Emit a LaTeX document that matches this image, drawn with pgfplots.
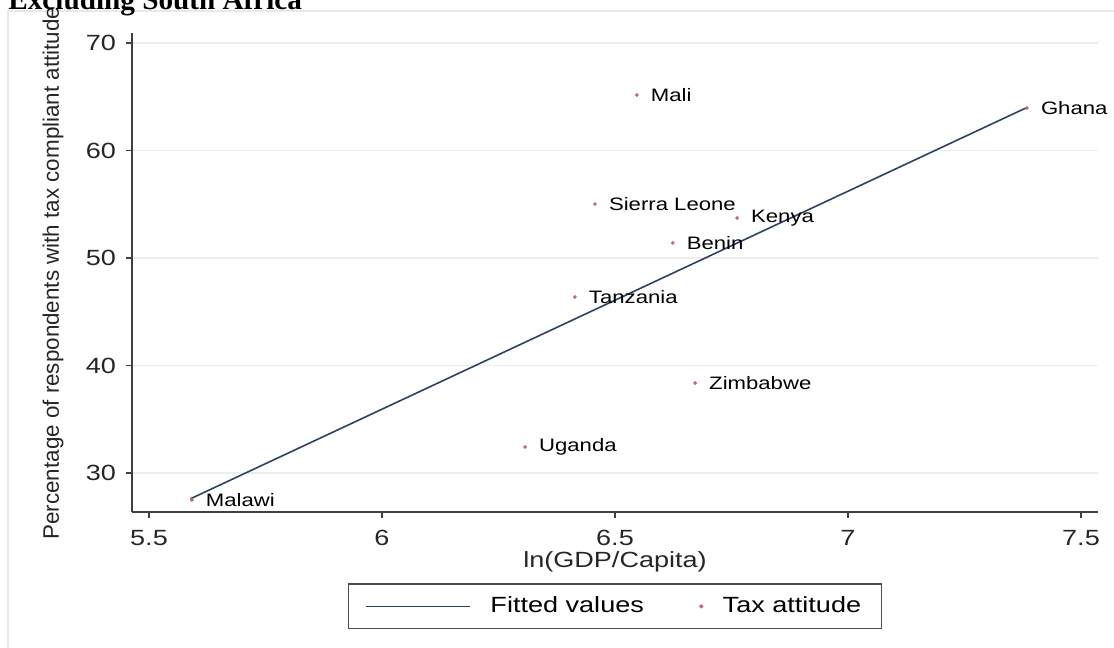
\documentclass[border=0pt]{standalone}
\usepackage{fontspec}
\setmainfont{Liberation Sans}[FakeStretch=1.23]
\newfontfamily\plainsans{Liberation Sans}
\newfontfamily\titlefont{Liberation Serif}
\usepackage{pgfplots}
\pgfplotsset{compat=1.18}
\pgfplotsset{lineleg/.style={legend image code/.code={\draw[##1] (0pt,0pt) -- (52pt,0pt);}}}
\definecolor{fitline}{RGB}{45,65,100}
\definecolor{dotcol}{RGB}{200,100,110}
\begin{document}
\begin{tikzpicture}
\useasboundingbox (0,0) rectangle (557pt,-324pt);
\draw[black!9, line width=0.7pt] (4pt,-340pt) -- (4pt,-5.5pt) -- (570pt,-5.5pt);
\begin{axis}[
  at={(66pt,-256pt)}, anchor=south west,
  scale only axis, width=483pt, height=239.5pt,
  xmin=5.4635, xmax=7.5365, ymin=26.37, ymax=70.93,
  axis x line*=bottom, axis y line*=left,
  axis line style={draw=black!75, line width=0.6pt, -},
  tick align=outside, major tick length=3pt,
  tick style={black!75, line width=0.6pt},
  xtick={5.5,6,6.5,7,7.5}, xticklabels={5.5,6,6.5,7,7.5},
  ytick={30,40,50,60,70}, yticklabels={30,40,50,60,70},
  ymajorgrids, grid style={black!7, line width=0.8pt},
  tick label style={font=\fontsize{11}{13}\selectfont, text=black!85},
  yticklabel style={xshift=-1.5pt},
  xticklabel style={yshift=-2.5pt},
  legend columns=2,
  legend style={at={(0.5,-0.197)}, anchor=center, draw=black!70, line width=0.6pt,
    font=\fontsize{11}{13}\selectfont, inner xsep=8pt, inner ysep=4.5pt,
    /tikz/every odd column/.append style={column sep=8pt},
    /tikz/every even column/.append style={column sep=26pt}},
  clip=false,
]
\addplot[fitline, line width=0.8pt, lineleg]
  coordinates {(5.589,27.6) (7.384,64.0)};
\addlegendentry{Fitted values}
\addplot[only marks, mark=*, mark size=0.7pt, dotcol,
  nodes near coords, point meta=explicit symbolic,
  every node near coord/.append style={anchor=west, xshift=3.5pt, text=black,
    font=\fontsize{9}{11}\selectfont}]
  table[meta=label] {
x y label
5.592 27.49 Malawi
6.547 65.16 Mali
7.384 63.95 Ghana
6.457 55.02 {Sierra Leone}
6.762 53.72 Kenya
6.624 51.40 Benin
6.414 46.37 Tanzania
6.672 38.37 Zimbabwe
6.307 32.42 Uganda
};
\addlegendentry{Tax attitude}
\end{axis}
\node[font=\fontsize{11}{13}\selectfont, text=black!85] at (307.5pt,-281pt) {ln(GDP/Capita)};
\node[rotate=90, anchor=west, font=\plainsans\fontsize{11.2}{13}\selectfont, text=black!85, inner sep=0pt] at (26.5pt,-270pt) {Percentage of respondents with tax compliant attitude};
\node[anchor=base west, inner sep=0pt, font=\titlefont\bfseries\fontsize{14.6}{17}\selectfont] at (4pt,-5pt) {Excluding South Africa};
\end{tikzpicture}
\end{document}
